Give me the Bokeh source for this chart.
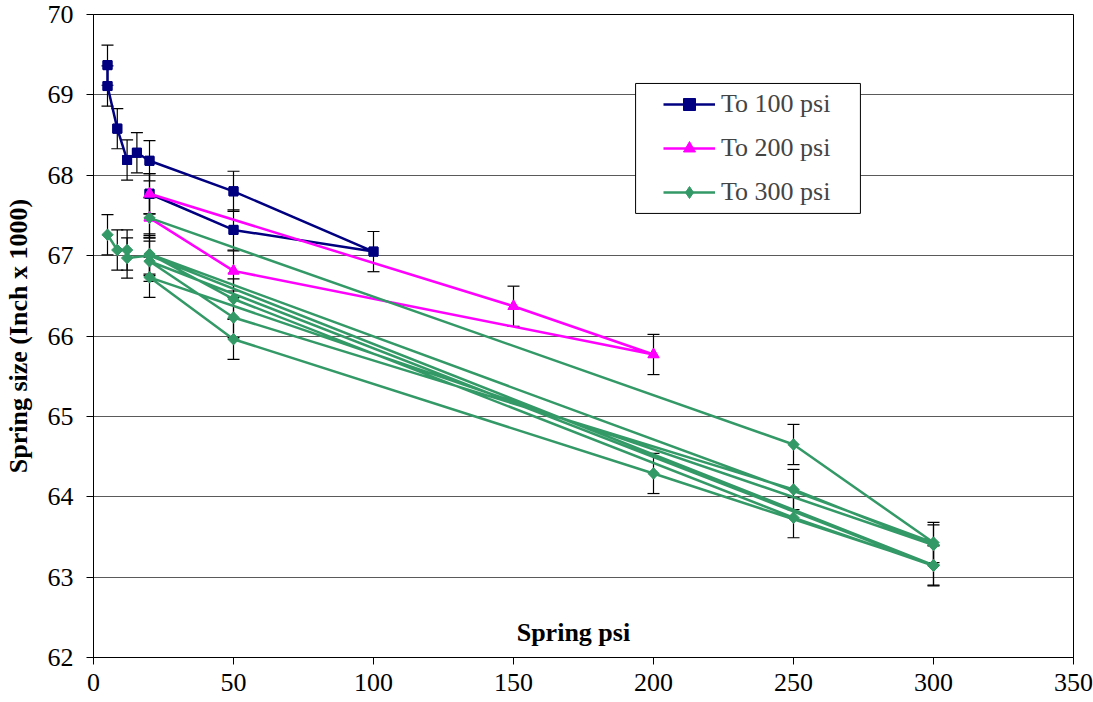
import math
from bokeh.plotting import figure
from bokeh.models import (ColumnDataSource, Whisker, TeeHead, Legend, LegendItem,
                          BoxAnnotation, Label, FixedTicker, Range1d)
from bokeh.embed import file_html
from bokeh.resources import INLINE

# Spring psi and spring size (inch x 1000) for each loading run, in reading order
psi_100 = [5, 5, 8.5, 12, 15.5, 20, 50, 100, 50, 20]
size_100 = [69.37, 69.11, 68.58, 68.19, 68.28, 68.18, 67.80, 67.05, 67.32, 67.77]

psi_200 = [20, 150, 200, 50, 20]
size_200 = [67.77, 66.37, 65.77, 66.81, 67.47]

psi_300 = [20, 250, 300, 20, 50, 250, 300, 20, 50, 250, 300,
           20, 50, 200, 300, 20, 12, 12, 8.5, 5]
size_300 = [67.47, 64.65, 63.43, 67.02, 66.46, 63.74, 63.14, 66.93, 66.23, 64.09, 63.40,
            66.73, 65.96, 64.29, 63.15, 67.00, 66.97, 67.07, 67.07, 67.26]

series_names = ["To 100 psi", "To 200 psi", "To 300 psi"]
series_colors = ["#000080", "#FF00FF", "#339966"]
# (marker, size, rotation) on the chart -- the diamond is a square turned by 45 degrees
series_markers = [("square", 9, 0.0), ("triangle", 11, 0.0), ("square", 8, math.pi / 4)]
# marker shown next to each legend entry (drawn under the chart marker)
legend_markers = [("square", 9), ("triangle", 11), ("diamond", 11)]

# fixed measurement uncertainty, inch x 1000
ERR = 0.25

x_ticks = [0, 50, 100, 150, 200, 250, 300, 350]
y_ticks = [62, 63, 64, 65, 66, 67, 68, 69, 70]

SERIF = "Liberation Serif"
FS = "26px"

p = figure(width=1093, height=702, x_range=Range1d(0, 350), y_range=Range1d(62, 70),
           output_backend="svg", toolbar_location=None,
           min_border_left=93, min_border_right=20, min_border_top=14, min_border_bottom=45,
           background_fill_color="white", border_fill_color="white")

p.outline_line_color = "black"
p.outline_line_width = 1
p.xgrid.visible = False
p.ygrid.grid_line_color = "#5a5a5a"
p.ygrid.grid_line_width = 1

p.xaxis.ticker = FixedTicker(ticks=x_ticks)
p.yaxis.ticker = FixedTicker(ticks=y_ticks)
for ax in (p.xaxis[0], p.yaxis[0]):
    ax.axis_line_color = "black"
    ax.major_tick_line_color = "black"
    ax.major_tick_in = 0
    ax.major_tick_out = 7
    ax.minor_tick_line_color = None
    ax.major_label_text_font = SERIF
    ax.major_label_text_font_size = FS
    ax.major_label_text_color = "black"
p.xaxis.major_label_standoff = 9
p.yaxis.major_label_standoff = 13
p.yaxis.axis_label = "Spring size (Inch x 1000)"
p.yaxis.axis_label_text_font = SERIF
p.yaxis.axis_label_text_font_size = FS
p.yaxis.axis_label_text_font_style = "bold"
p.yaxis.axis_label_text_color = "black"
p.yaxis.axis_label_standoff = 12

# legend frame
p.add_layout(BoxAnnotation(left=193.6, right=273.9, top=69.142, bottom=67.525,
                           fill_color="white", fill_alpha=1.0,
                           line_color="black", line_width=1, line_alpha=1.0))

items = []
for name, xs, ys, col, (mk, ms, ang), (lmk, lms) in zip(
        series_names, [psi_100, psi_200, psi_300], [size_100, size_200, size_300],
        series_colors, series_markers, legend_markers):
    src = ColumnDataSource(dict(x=xs, y=ys,
                                upper=[v + ERR for v in ys],
                                lower=[v - ERR for v in ys]))
    ln = p.line("x", "y", source=src, line_color=col, line_width=2.5)
    key = p.scatter("x", "y", source=src, marker=lmk, size=lms,
                    fill_color=col, line_color=col)
    p.scatter("x", "y", source=src, marker=mk, size=ms, angle=ang,
              fill_color=col, line_color=col)
    p.add_layout(Whisker(source=src, base="x", upper="upper", lower="lower",
                         line_color="black", line_width=1.2,
                         upper_head=TeeHead(size=12, line_color="black", line_width=1.2),
                         lower_head=TeeHead(size=12, line_color="black", line_width=1.2)))
    items.append(LegendItem(label=name, renderers=[ln, key]))

legend = Legend(items=items, location=(565, 445), padding=5, spacing=14, margin=0,
                glyph_width=52, glyph_height=30, label_height=30, label_standoff=6,
                label_text_font=SERIF, label_text_font_size=FS,
                border_line_alpha=0, background_fill_alpha=0)
p.add_layout(legend)

p.add_layout(Label(x=171.4, y=62.31, text="Spring psi", text_font=SERIF,
                   text_font_size=FS, text_font_style="bold",
                   text_align="center", text_baseline="middle", text_color="black"))

open("out.html", "w").write(file_html(p, INLINE))
